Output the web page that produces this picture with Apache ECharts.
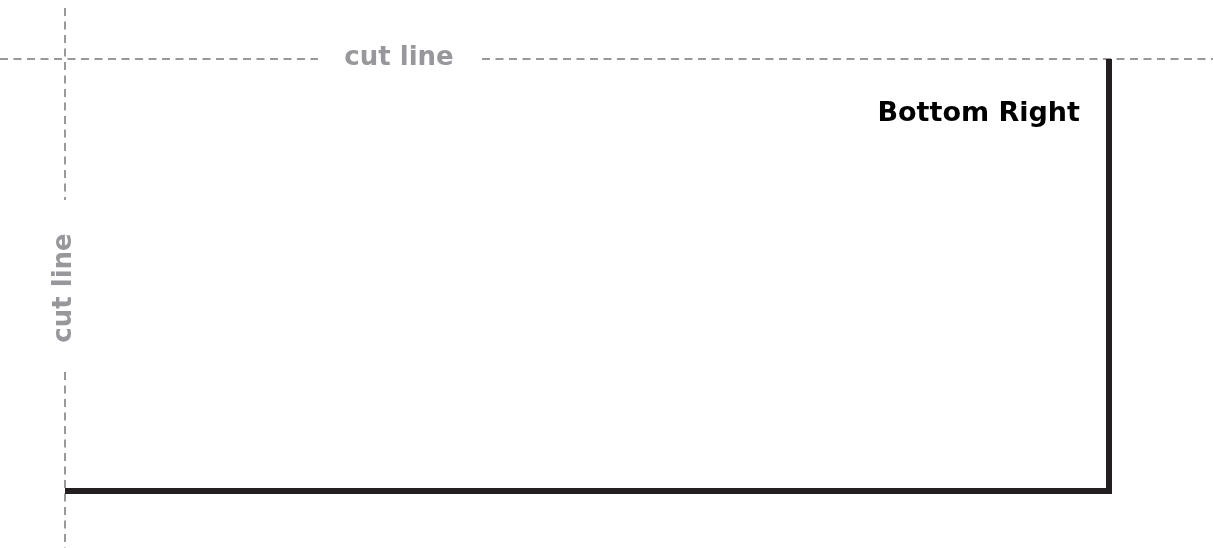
<!DOCTYPE html>
<html>
<head>
<meta charset="utf-8">
<script src="https://cdn.jsdelivr.net/npm/echarts@6/dist/echarts.min.js"></script>
<style>
  html, body { margin: 0; padding: 0; background: #fff; }
  #main { width: 1213px; height: 548px; }
</style>
</head>
<body>
<div id="main"></div>
<script>
// cut marks (page coordinates, y grows downward)
const cutTopLeft = [[0, 59], [318, 59]]
const cutTopRight = [[482, 59], [1213, 59]]
const cutSideUpper = [[65, 8], [65, 200]]
const cutSideLower = [[65, 372], [65, 548]]
// the thick bottom-right corner
const cornerLine = [[65, 491], [1109, 491], [1109, 59]]
// labels
const labelNames = ['cut line', 'cut line', 'Bottom Right']
const labelPoints = [[399, 58], [64, 288], [1080, 114]]

let chart = echarts.init(document.getElementById('main'))

const dashed = (data) => ({
  type: 'line',
  data: data,
  symbol: 'none',
  silent: true,
  lineStyle: { color: '#999999', width: 2, type: [8, 5.5] }
})

let options = {
  animation: false,
  grid: { left: 0, right: 0, top: 0, bottom: 0 },
  xAxis: { type: 'value', min: 0, max: 1213, show: false },
  yAxis: { type: 'value', min: 0, max: 548, inverse: true, show: false },
  series: [
    dashed(cutTopLeft),
    dashed(cutTopRight),
    dashed(cutSideUpper),
    dashed(cutSideLower),
    {
      type: 'line',
      data: cornerLine,
      symbol: 'none',
      silent: true,
      lineStyle: { color: '#231f20', width: 6, join: 'miter', cap: 'butt' }
    },
    {
      type: 'scatter',
      symbolSize: 0,
      silent: true,
      itemStyle: { opacity: 1 },
      data: labelNames.map((name, i) => {
        let item = { name: name, value: labelPoints[i] }
        if (i === 0) {
          item.label = { align: 'center' }
        } else if (i === 1) {
          item.label = { rotate: 90, align: 'center' }
        } else {
          item.label = { align: 'right', color: '#000', fontSize: 27 }
        }
        return item
      }),
      label: {
        show: true,
        position: 'inside',
        formatter: '{b}',
        color: '#98989c',
        fontFamily: 'DejaVu Sans',
        fontWeight: 'bold',
        fontSize: 26,
        verticalAlign: 'middle'
      }
    }
  ]
}
chart.setOption(options)
</script>
</body>
</html>
